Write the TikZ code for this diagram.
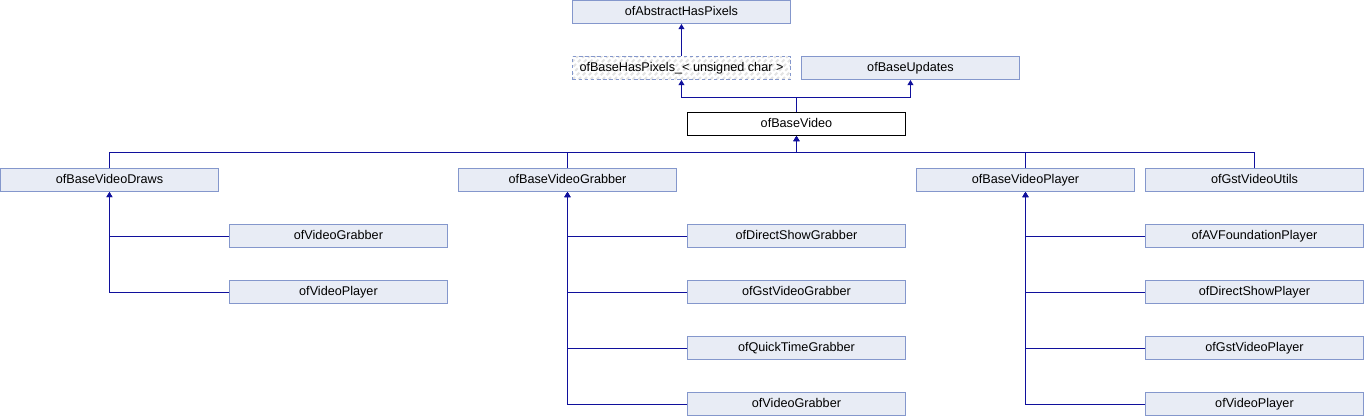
\documentclass[tikz,border=0pt]{standalone}
\usepackage{fontspec}
\setmainfont{Liberation Sans}
\usetikzlibrary{arrows.meta}
\definecolor{boxfill}{HTML}{E8ECF5}
\definecolor{boxline}{HTML}{8497CC}
\definecolor{linkblue}{HTML}{10109C}
\begin{document}
\begin{tikzpicture}[x=0.02cm,y=-0.02cm]
	\tikzset{cls/.style={draw=boxline, fill=boxfill, line width=0.55pt, anchor=north west,
	    minimum width=4.36cm, minimum height=0.46cm, inner sep=0pt,
	    text height=5.3pt, text depth=1.5pt,
	    font=\fontsize{7.2pt}{8pt}\selectfont},
	  tmpl/.style={cls, dashed, dash pattern=on 2pt off 1.5pt, fill=white,
	    path picture={\foreach \k in {-24,-18,...,222}
	      \draw [gray!22, line width=1.1pt] ([xshift=\k*0.02cm]path picture bounding box.south west) -- ++(0.5cm,0.5cm);}},
	  cur/.style={cls, draw=black, fill=white},
	  inh/.style={draw=linkblue, line width=0.55pt, -{Triangle[length=3pt,width=3.4pt]}}}
	\useasboundingbox (0,0) rectangle (1364,416);

	% top levels
	\node [cls] (abs) at (572,0) {ofAbstractHasPixels};
	\node [tmpl] (hasp) at (572,56) {ofBaseHasPixels\_< unsigned char >};
	\node [cls] (upd) at (801,56) {ofBaseUpdates};
	\node [cur] (vid) at (687,112) {ofBaseVideo};

	% second level
	\node [cls] (draws) at (0,168) {ofBaseVideoDraws};
	\node [cls] (grab) at (458,168) {ofBaseVideoGrabber};
	\node [cls] (play) at (916,168) {ofBaseVideoPlayer};
	\node [cls] (utils) at (1145,168) {ofGstVideoUtils};

	% leaves
	\node [cls] (dvg) at (229,224) {ofVideoGrabber};
	\node [cls] (dvp) at (229,280) {ofVideoPlayer};
	\node [cls] (gds) at (687,224) {ofDirectShowGrabber};
	\node [cls] (ggst) at (687,280) {ofGstVideoGrabber};
	\node [cls] (gqt) at (687,336) {ofQuickTimeGrabber};
	\node [cls] (gvg) at (687,392) {ofVideoGrabber};
	\node [cls] (pav) at (1145,224) {ofAVFoundationPlayer};
	\node [cls] (pds) at (1145,280) {ofDirectShowPlayer};
	\node [cls] (pgst) at (1145,336) {ofGstVideoPlayer};
	\node [cls] (pvp) at (1145,392) {ofVideoPlayer};

	\coordinate (busA) at (0,97);
	\coordinate (busB) at (0,152);

	\draw [inh] (hasp.north) -- (abs.south);
	\draw [inh] (vid.north) -- (vid.north |- busA) -| (hasp.south);
	\draw [inh] (vid.north |- busA) -| (upd.south);
	\foreach \c in {draws,grab,play,utils}
	  \draw [inh] (\c.north) -- (\c.north |- busB) -- (vid.south |- busB) -- (vid.south);
	\foreach \c in {dvg,dvp}
	  \draw [inh] (\c.west) -| (draws.south);
	\foreach \c in {gds,ggst,gqt,gvg}
	  \draw [inh] (\c.west) -| (grab.south);
	\foreach \c in {pav,pds,pgst,pvp}
	  \draw [inh] (\c.west) -| (play.south);
\end{tikzpicture}
\end{document}
